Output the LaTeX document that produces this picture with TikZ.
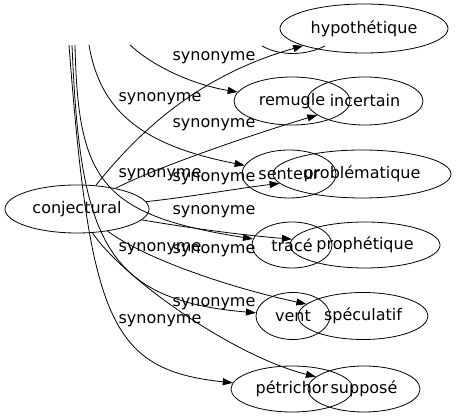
\documentclass[tikz,border=0pt]{standalone}
\usepackage{fontspec}
\setmainfont{DejaVu Sans}
\usetikzlibrary{arrows.meta,shapes.geometric}

\begin{document}
\begin{tikzpicture}[x=1pt,y=-1pt,->,>={Triangle[length=10pt,width=7pt]},line width=0.8pt,
  every node/.style={font=\fontsize{16}{19}\selectfont},
  word/.style={draw,ellipse,inner sep=0pt},
  syn/.style={inner sep=0pt}]
\useasboundingbox (0,0) rectangle (459,419);

\node (conj) [word, minimum width=144, minimum height=48] at (77,209) {conjectural};
\node (hypo) [word, minimum width=168, minimum height=49] at (364,28.5) {hypothétique};
\node (incert) [word, minimum width=116, minimum height=48] at (365,101) {incertain};
\node (probl) [word, minimum width=178, minimum height=48] at (362,174) {problématique};
\node (proph) [word, minimum width=150, minimum height=46] at (365,245) {prophétique};
\node (specul) [word, minimum width=130, minimum height=47] at (363,316) {spéculatif};
\node (suppo) [word, minimum width=112, minimum height=46] at (364,389) {supposé};

\node (remug) [word, minimum width=116, minimum height=48] at (292,101) {remugle};
\node (sent) [word, minimum width=94, minimum height=48] at (289,174) {senteur};
\node (trace) [word, minimum width=80, minimum height=46] at (292,245) {tracé};
\node (vent) [word, minimum width=74, minimum height=47] at (293,316) {vent};
\node (petri) [word, minimum width=122, minimum height=46] at (292,389) {pétrichor};

\coordinate (b1) at (130,45);
\coordinate (b2) at (89,45);
\coordinate (b3) at (75,45);
\coordinate (b4) at (72,45);
\coordinate (b5) at (69,45);
\coordinate (arcl) at (262,46);
\coordinate (arcr) at (325,46);

\draw (conj) .. controls (140,130) and (200,75) .. (hypo);
\draw (conj) .. controls (150,170) and (250,135) .. (incert);
\draw (conj) .. controls (190,197) and (240,188) .. (probl);
\draw (conj) .. controls (190,228) and (240,235) .. (proph);
\draw (conj) .. controls (150,262) and (240,290) .. (specul);
\draw (conj) .. controls (120,275) and (230,355) .. (suppo);

\draw (b1) .. controls (155,68) and (195,85) .. (remug);
\draw (b2) .. controls (100,110) and (140,145) .. (sent);
\draw (b3) .. controls (78,180) and (100,215) .. (trace);
\draw (b4) .. controls (80,240) and (105,300) .. (vent);
\draw (b5) .. controls (90,320) and (110,370) .. (petri);
\draw[-] (arcl) .. controls (280,56) and (305,56) .. (arcr);

\node (l1) [syn] at (214,58) {synonyme};
\node (l2) [syn] at (160,99) {synonyme};
\node (l3) [syn] at (214,125) {synonyme};
\node (l4) [syn] at (160,175) {synonyme};
\node (l5) [syn] at (214,179) {synonyme};
\node (l6) [syn] at (214,212) {synonyme};
\node (l7) [syn] at (160,249) {synonyme};
\node (l8) [syn] at (214,251) {synonyme};
\node (l9) [syn] at (214,304) {synonyme};
\node (l10) [syn] at (160,321) {synonyme};
\end{tikzpicture}
\end{document}
